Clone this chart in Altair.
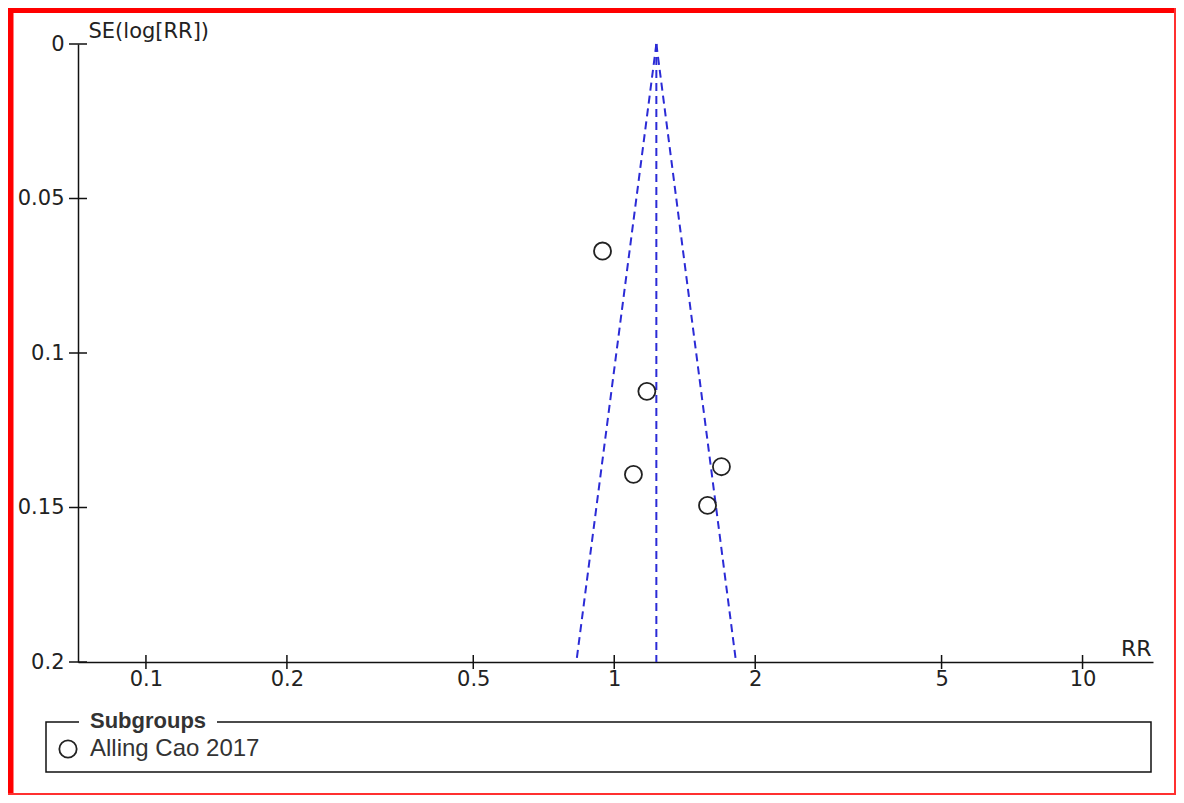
import altair as alt
import pandas as pd

# ---- data ----
study_rr = [0.944, 1.174, 1.099, 1.694, 1.582]
study_se = [0.0670, 0.1124, 0.1393, 0.1368, 0.1493]
subgroups = ["Alling Cao 2017"]
pooled_rr = 1.23
funnel_lower_rr = 0.83
funnel_upper_rr = 1.82
se_top = 0.0
se_bottom = 0.2
x_ticks = [0.1, 0.2, 0.5, 1, 2, 5, 10]
y_ticks = [0, 0.05, 0.1, 0.15, 0.2]
x_domain = [0.0716, 14.14]
y_domain = [0, 0.2]

W, H = 1075, 618
AX_FONT = "DejaVu Sans"
LG_FONT = "Liberation Sans"

points_df = pd.DataFrame({"rr": study_rr, "se": study_se,
                          "group": [subgroups[0]] * len(study_rr)})
funnel_df = pd.DataFrame({
    "rr": [pooled_rr, funnel_lower_rr, pooled_rr, pooled_rr, pooled_rr, funnel_upper_rr],
    "se": [se_top, se_bottom, se_top, se_bottom, se_top, se_bottom],
    "line": ["lower", "lower", "center", "center", "upper", "upper"],
})
xt_df = pd.DataFrame({"rr": x_ticks})
yt_df = pd.DataFrame({"se": y_ticks})
one = pd.DataFrame({"k": [0]})

xscale = alt.Scale(type="log", domain=x_domain, nice=False, zero=False)
yscale = alt.Scale(domain=y_domain, reverse=True, nice=False, zero=False)

x_axis = alt.Axis(values=x_ticks, format="~g", ticks=False, tickSize=0, grid=False,
                  labelPadding=6, labelFontSize=21, labelFont=AX_FONT, labelColor="#222",
                  labelFlush=False, labelOverlap=False,
                  domainColor="#111", domainWidth=1.5,
                  title="RR", titleX=W - 2, titleY=-7, titleAlign="right",
                  titleBaseline="alphabetic", titleFontWeight="normal",
                  titleFontSize=22, titleFont=AX_FONT, titleColor="#222")
y_axis = alt.Axis(values=y_ticks, format="~g", ticks=False, tickSize=0, grid=False,
                  labelPadding=14, labelFontSize=21, labelFont=AX_FONT, labelColor="#222",
                  labelFlush=False, labelOverlap=False,
                  domainColor="#111", domainWidth=1.5,
                  title="SE(log[RR])", titleAngle=0, titleX=10, titleY=-7,
                  titleAlign="left", titleBaseline="alphabetic",
                  titleFontWeight="normal", titleFontSize=21, titleFont=AX_FONT,
                  titleColor="#222")

X = alt.X("rr:Q", scale=xscale, axis=x_axis)
Y = alt.Y("se:Q", scale=yscale, axis=y_axis)

# ---- decorations: red frame and legend box ----
red_left = alt.Chart(one).mark_rule(color="#ff0000", strokeWidth=5.5).encode(
    x=alt.value(-67.25), y=alt.value(-36), y2=alt.value(751))
red_top = alt.Chart(one).mark_rule(color="#ff0000", strokeWidth=5).encode(
    y=alt.value(-33.5), x=alt.value(-70), x2=alt.value(1098))
red_right = alt.Chart(one).mark_rule(color="#ff3030", strokeWidth=2).encode(
    x=alt.value(1097), y=alt.value(-36), y2=alt.value(751))
red_bottom = alt.Chart(one).mark_rule(color="#ff3030", strokeWidth=2).encode(
    y=alt.value(750), x=alt.value(-70), x2=alt.value(1098))

legend_box = alt.Chart(one).mark_rect(fill="white", stroke="#111", strokeWidth=1.5).encode(
    x=alt.value(-32), x2=alt.value(1073), y=alt.value(678), y2=alt.value(728))
legend_mask = alt.Chart(one).mark_rect(fill="white").encode(
    x=alt.value(1), x2=alt.value(139), y=alt.value(672), y2=alt.value(685))
legend_title = alt.Chart(one).mark_text(
    text="Subgroups", font=LG_FONT, fontSize=22, fontWeight="bold", color="#333",
    align="left", baseline="alphabetic").encode(x=alt.value(12), y=alt.value(684))

# ---- funnel ----
funnel = alt.Chart(funnel_df).mark_line(
    color="#2b2bd6", strokeWidth=2, strokeDash=[8, 5]).encode(
    x=X, y=Y, detail="line:N", order="se:Q",
)

x_tickmarks = alt.Chart(xt_df).mark_tick(
    orient="vertical", size=14, thickness=1.5, color="#111", opacity=1).encode(
    x=X, y=alt.value(H))
y_tickmarks = alt.Chart(yt_df).mark_tick(
    orient="horizontal", size=18, thickness=1.5, color="#111", opacity=1).encode(
    y=Y, x=alt.value(0))

points = alt.Chart(points_df).mark_point(
    filled=False, size=290, strokeWidth=1.8, color="#222", opacity=1).encode(
    x=X, y=Y,
    shape=alt.Shape("group:N",
                    scale=alt.Scale(domain=subgroups, range=["circle"]),
                    legend=alt.Legend(title=None, orient="none", legendX=-22, legendY=693,
                                      symbolSize=300, symbolStrokeWidth=1.8,
                                      symbolStrokeColor="#222", symbolFillColor="white",
                                      labelFont=LG_FONT, labelFontSize=24, labelLimit=0,
                                      labelColor="#333", labelOffset=10, padding=0)),
)

chart = alt.layer(
    red_left, red_top, red_right, red_bottom,
    legend_box, legend_mask, legend_title,
    funnel, x_tickmarks, y_tickmarks, points,
).properties(
    width=W, height=H,
    autosize=alt.AutoSizeParams(type="none"),
    padding={"left": 70, "top": 36, "right": 23, "bottom": 133},
    background="white",
).configure_view(stroke=None)

chart.save("out.html", embed_options={"renderer": "svg", "actions": False})
